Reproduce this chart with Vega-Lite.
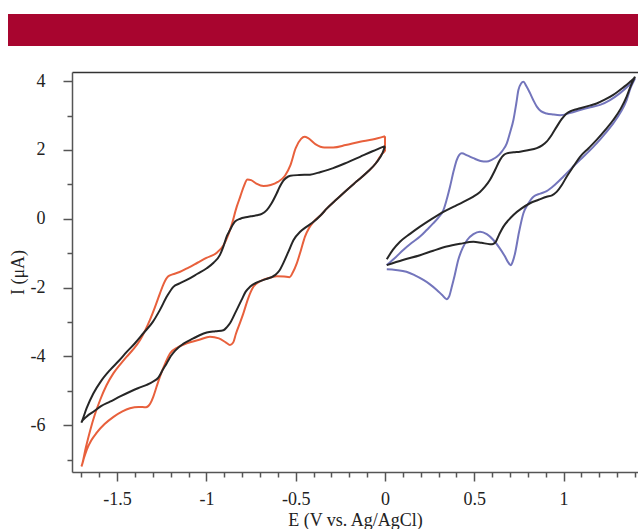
{
  "$schema": "https://vega.github.io/schema/vega-lite/v6.json",
  "padding": {"left": 8, "top": 14, "right": 0, "bottom": 0},
  "background": "white",
  "spacing": {"row": 26, "column": 0},
  "columns": 2,
  "bounds": "flush",
  "config": {"font": "Liberation Serif"},
  "concat": [
    {
      "width": 64,
      "height": 32,
      "data": {"values": []},
      "mark": {"type": "point", "opacity": 0},
      "view": {"fill": "#A8052F", "stroke": null}
    },
    {
      "width": 566,
      "height": 32,
      "data": {"values": []},
      "mark": {"type": "point", "opacity": 0},
      "view": {"fill": "#A8052F", "stroke": null}
    },
    {
      "width": 64,
      "height": 400,
      "data": {"values": []},
      "mark": {"type": "point", "opacity": 0},
      "view": {"fill": null, "stroke": null}
    },
    {
      "width": 566,
      "height": 400,
      "view": {"fill": "white", "stroke": null},
      "data": {"values": [
        {"s":"A","o":1,"E":0.0,"I":2.40},{"s":"A","o":2,"E":-0.07,"I":2.30},{"s":"A","o":3,"E":-0.14,"I":2.24},{"s":"A","o":4,"E":-0.22,"I":2.14},{"s":"A","o":5,"E":-0.29,"I":2.07},{"s":"A","o":6,"E":-0.34,"I":2.07},{"s":"A","o":7,"E":-0.39,"I":2.17},{"s":"A","o":8,"E":-0.43,"I":2.34},{"s":"A","o":9,"E":-0.45,"I":2.38},{"s":"A","o":10,"E":-0.47,"I":2.32},{"s":"A","o":11,"E":-0.50,"I":2.05},{"s":"A","o":12,"E":-0.53,"I":1.55},{"s":"A","o":13,"E":-0.56,"I":1.25},{"s":"A","o":14,"E":-0.60,"I":1.07},{"s":"A","o":15,"E":-0.64,"I":0.98},{"s":"A","o":16,"E":-0.68,"I":0.95},{"s":"A","o":17,"E":-0.72,"I":1.02},{"s":"A","o":18,"E":-0.75,"I":1.12},{"s":"A","o":19,"E":-0.77,"I":1.14},{"s":"A","o":20,"E":-0.79,"I":0.95},{"s":"A","o":21,"E":-0.81,"I":0.65},{"s":"A","o":22,"E":-0.83,"I":0.35},{"s":"A","o":23,"E":-0.86,"I":-0.2},{"s":"A","o":24,"E":-0.88,"I":-0.5},{"s":"A","o":25,"E":-0.905,"I":-0.78},{"s":"A","o":26,"E":-0.94,"I":-0.98},{"s":"A","o":27,"E":-1.0,"I":-1.14},{"s":"A","o":28,"E":-1.05,"I":-1.28},{"s":"A","o":29,"E":-1.10,"I":-1.42},{"s":"A","o":30,"E":-1.15,"I":-1.55},{"s":"A","o":31,"E":-1.19,"I":-1.62},{"s":"A","o":32,"E":-1.215,"I":-1.68},{"s":"A","o":33,"E":-1.24,"I":-1.9},{"s":"A","o":34,"E":-1.26,"I":-2.17},{"s":"A","o":35,"E":-1.29,"I":-2.6},{"s":"A","o":36,"E":-1.316,"I":-2.94},{"s":"A","o":37,"E":-1.345,"I":-3.27},{"s":"A","o":38,"E":-1.372,"I":-3.53},{"s":"A","o":39,"E":-1.41,"I":-3.8},{"s":"A","o":40,"E":-1.446,"I":-4.01},{"s":"A","o":41,"E":-1.48,"I":-4.22},{"s":"A","o":42,"E":-1.52,"I":-4.49},{"s":"A","o":43,"E":-1.56,"I":-4.85},{"s":"A","o":44,"E":-1.595,"I":-5.27},{"s":"A","o":45,"E":-1.625,"I":-5.7},{"s":"A","o":46,"E":-1.65,"I":-6.14},{"s":"A","o":47,"E":-1.675,"I":-6.65},{"s":"A","o":48,"E":-1.70,"I":-7.2},
        {"s":"A","o":49,"E":-1.685,"I":-6.95},{"s":"A","o":50,"E":-1.67,"I":-6.72},{"s":"A","o":51,"E":-1.645,"I":-6.45},{"s":"A","o":52,"E":-1.614,"I":-6.22},{"s":"A","o":53,"E":-1.57,"I":-5.97},{"s":"A","o":54,"E":-1.52,"I":-5.76},{"s":"A","o":55,"E":-1.47,"I":-5.6},{"s":"A","o":56,"E":-1.428,"I":-5.51},{"s":"A","o":57,"E":-1.38,"I":-5.47},{"s":"A","o":58,"E":-1.338,"I":-5.48},{"s":"A","o":59,"E":-1.315,"I":-5.38},{"s":"A","o":60,"E":-1.297,"I":-5.17},{"s":"A","o":61,"E":-1.28,"I":-4.9},{"s":"A","o":62,"E":-1.26,"I":-4.59},{"s":"A","o":63,"E":-1.23,"I":-4.2},{"s":"A","o":64,"E":-1.204,"I":-3.92},{"s":"A","o":65,"E":-1.16,"I":-3.74},{"s":"A","o":66,"E":-1.11,"I":-3.62},{"s":"A","o":67,"E":-1.04,"I":-3.52},{"s":"A","o":68,"E":-0.98,"I":-3.43},{"s":"A","o":69,"E":-0.93,"I":-3.48},{"s":"A","o":70,"E":-0.89,"I":-3.6},{"s":"A","o":71,"E":-0.868,"I":-3.67},{"s":"A","o":72,"E":-0.85,"I":-3.6},{"s":"A","o":73,"E":-0.835,"I":-3.35},{"s":"A","o":74,"E":-0.81,"I":-3.0},{"s":"A","o":75,"E":-0.793,"I":-2.75},{"s":"A","o":76,"E":-0.765,"I":-2.3},{"s":"A","o":77,"E":-0.737,"I":-1.98},{"s":"A","o":78,"E":-0.70,"I":-1.82},{"s":"A","o":79,"E":-0.66,"I":-1.74},{"s":"A","o":80,"E":-0.606,"I":-1.67},{"s":"A","o":81,"E":-0.565,"I":-1.68},{"s":"A","o":82,"E":-0.535,"I":-1.70},{"s":"A","o":83,"E":-0.515,"I":-1.55},{"s":"A","o":84,"E":-0.494,"I":-1.30},{"s":"A","o":85,"E":-0.47,"I":-0.9},{"s":"A","o":86,"E":-0.448,"I":-0.52},{"s":"A","o":87,"E":-0.425,"I":-0.27},{"s":"A","o":88,"E":-0.40,"I":-0.09},{"s":"A","o":89,"E":-0.36,"I":0.1},{"s":"A","o":90,"E":-0.325,"I":0.3},{"s":"A","o":91,"E":-0.28,"I":0.52},{"s":"A","o":92,"E":-0.215,"I":0.83},{"s":"A","o":93,"E":-0.16,"I":1.08},{"s":"A","o":94,"E":-0.10,"I":1.35},{"s":"A","o":95,"E":-0.05,"I":1.62},{"s":"A","o":96,"E":-0.018,"I":1.88},{"s":"A","o":97,"E":0.0,"I":1.98},{"s":"A","o":98,"E":0.0,"I":2.40},

        {"s":"B","o":1,"E":0.0,"I":2.11},{"s":"B","o":2,"E":-0.07,"I":1.96},{"s":"B","o":3,"E":-0.14,"I":1.80},{"s":"B","o":4,"E":-0.21,"I":1.64},{"s":"B","o":5,"E":-0.29,"I":1.47},{"s":"B","o":6,"E":-0.36,"I":1.36},{"s":"B","o":7,"E":-0.42,"I":1.28},{"s":"B","o":8,"E":-0.48,"I":1.27},{"s":"B","o":9,"E":-0.53,"I":1.25},{"s":"B","o":10,"E":-0.555,"I":1.18},{"s":"B","o":11,"E":-0.57,"I":1.10},{"s":"B","o":12,"E":-0.59,"I":0.92},{"s":"B","o":13,"E":-0.606,"I":0.74},{"s":"B","o":14,"E":-0.635,"I":0.45},{"s":"B","o":15,"E":-0.662,"I":0.25},{"s":"B","o":16,"E":-0.69,"I":0.14},{"s":"B","o":17,"E":-0.718,"I":0.10},{"s":"B","o":18,"E":-0.75,"I":0.07},{"s":"B","o":19,"E":-0.78,"I":0.04},{"s":"B","o":20,"E":-0.81,"I":0.0},{"s":"B","o":21,"E":-0.84,"I":-0.08},{"s":"B","o":22,"E":-0.855,"I":-0.2},{"s":"B","o":23,"E":-0.868,"I":-0.33},{"s":"B","o":24,"E":-0.885,"I":-0.5},{"s":"B","o":25,"E":-0.905,"I":-0.81},{"s":"B","o":26,"E":-0.924,"I":-1.05},{"s":"B","o":27,"E":-0.96,"I":-1.28},{"s":"B","o":28,"E":-0.998,"I":-1.44},{"s":"B","o":29,"E":-1.05,"I":-1.6},{"s":"B","o":30,"E":-1.11,"I":-1.78},{"s":"B","o":31,"E":-1.15,"I":-1.88},{"s":"B","o":32,"E":-1.185,"I":-1.98},{"s":"B","o":33,"E":-1.22,"I":-2.25},{"s":"B","o":34,"E":-1.26,"I":-2.65},{"s":"B","o":35,"E":-1.30,"I":-3.0},{"s":"B","o":36,"E":-1.353,"I":-3.33},{"s":"B","o":37,"E":-1.40,"I":-3.62},{"s":"B","o":38,"E":-1.446,"I":-3.87},{"s":"B","o":39,"E":-1.49,"I":-4.13},{"s":"B","o":40,"E":-1.54,"I":-4.40},{"s":"B","o":41,"E":-1.59,"I":-4.72},{"s":"B","o":42,"E":-1.633,"I":-5.08},{"s":"B","o":43,"E":-1.67,"I":-5.5},{"s":"B","o":44,"E":-1.70,"I":-5.93},
        {"s":"B","o":45,"E":-1.67,"I":-5.75},{"s":"B","o":46,"E":-1.633,"I":-5.61},{"s":"B","o":47,"E":-1.59,"I":-5.45},{"s":"B","o":48,"E":-1.54,"I":-5.32},{"s":"B","o":49,"E":-1.48,"I":-5.16},{"s":"B","o":50,"E":-1.428,"I":-5.03},{"s":"B","o":51,"E":-1.38,"I":-4.92},{"s":"B","o":52,"E":-1.334,"I":-4.83},{"s":"B","o":53,"E":-1.30,"I":-4.74},{"s":"B","o":54,"E":-1.269,"I":-4.62},{"s":"B","o":55,"E":-1.245,"I":-4.4},{"s":"B","o":56,"E":-1.222,"I":-4.20},{"s":"B","o":57,"E":-1.2,"I":-4.0},{"s":"B","o":58,"E":-1.176,"I":-3.84},{"s":"B","o":59,"E":-1.13,"I":-3.64},{"s":"B","o":60,"E":-1.073,"I":-3.48},{"s":"B","o":61,"E":-1.035,"I":-3.38},{"s":"B","o":62,"E":-0.998,"I":-3.31},{"s":"B","o":63,"E":-0.95,"I":-3.27},{"s":"B","o":64,"E":-0.905,"I":-3.24},{"s":"B","o":65,"E":-0.885,"I":-3.15},{"s":"B","o":66,"E":-0.868,"I":-3.04},{"s":"B","o":67,"E":-0.835,"I":-2.7},{"s":"B","o":68,"E":-0.803,"I":-2.36},{"s":"B","o":69,"E":-0.78,"I":-2.12},{"s":"B","o":70,"E":-0.756,"I":-1.98},{"s":"B","o":71,"E":-0.72,"I":-1.86},{"s":"B","o":72,"E":-0.68,"I":-1.78},{"s":"B","o":73,"E":-0.616,"I":-1.64},{"s":"B","o":74,"E":-0.59,"I":-1.5},{"s":"B","o":75,"E":-0.57,"I":-1.30},{"s":"B","o":76,"E":-0.54,"I":-0.95},{"s":"B","o":77,"E":-0.512,"I":-0.62},{"s":"B","o":78,"E":-0.475,"I":-0.38},{"s":"B","o":79,"E":-0.438,"I":-0.23},{"s":"B","o":80,"E":-0.40,"I":-0.09},{"s":"B","o":81,"E":-0.36,"I":0.1},{"s":"B","o":82,"E":-0.325,"I":0.3},{"s":"B","o":83,"E":-0.28,"I":0.52},{"s":"B","o":84,"E":-0.215,"I":0.83},{"s":"B","o":85,"E":-0.16,"I":1.08},{"s":"B","o":86,"E":-0.10,"I":1.35},{"s":"B","o":87,"E":-0.05,"I":1.62},{"s":"B","o":88,"E":-0.013,"I":1.92},{"s":"B","o":89,"E":0.0,"I":2.11},

        {"s":"C","o":1,"E":0.01,"I":-1.35},{"s":"C","o":2,"E":0.06,"I":-1.12},{"s":"C","o":3,"E":0.102,"I":-0.91},{"s":"C","o":4,"E":0.15,"I":-0.7},{"s":"C","o":5,"E":0.196,"I":-0.52},{"s":"C","o":6,"E":0.235,"I":-0.32},{"s":"C","o":7,"E":0.271,"I":-0.13},{"s":"C","o":8,"E":0.30,"I":0.04},{"s":"C","o":9,"E":0.327,"I":0.25},{"s":"C","o":10,"E":0.345,"I":0.55},{"s":"C","o":11,"E":0.364,"I":0.93},{"s":"C","o":12,"E":0.385,"I":1.4},{"s":"C","o":13,"E":0.402,"I":1.71},{"s":"C","o":14,"E":0.415,"I":1.85},{"s":"C","o":15,"E":0.43,"I":1.90},{"s":"C","o":16,"E":0.46,"I":1.84},{"s":"C","o":17,"E":0.495,"I":1.76},{"s":"C","o":18,"E":0.535,"I":1.68},{"s":"C","o":19,"E":0.57,"I":1.66},{"s":"C","o":20,"E":0.60,"I":1.72},{"s":"C","o":21,"E":0.626,"I":1.80},{"s":"C","o":22,"E":0.655,"I":1.96},{"s":"C","o":23,"E":0.682,"I":2.19},{"s":"C","o":24,"E":0.70,"I":2.5},{"s":"C","o":25,"E":0.719,"I":2.87},{"s":"C","o":26,"E":0.735,"I":3.35},{"s":"C","o":27,"E":0.747,"I":3.74},{"s":"C","o":28,"E":0.762,"I":3.93},{"s":"C","o":29,"E":0.775,"I":3.98},{"s":"C","o":30,"E":0.792,"I":3.85},{"s":"C","o":31,"E":0.812,"I":3.65},{"s":"C","o":32,"E":0.83,"I":3.45},{"s":"C","o":33,"E":0.85,"I":3.26},{"s":"C","o":34,"E":0.875,"I":3.12},{"s":"C","o":35,"E":0.905,"I":3.06},{"s":"C","o":36,"E":0.94,"I":3.03},{"s":"C","o":37,"E":0.98,"I":3.01},{"s":"C","o":38,"E":1.04,"I":3.08},{"s":"C","o":39,"E":1.092,"I":3.16},{"s":"C","o":40,"E":1.15,"I":3.24},{"s":"C","o":41,"E":1.204,"I":3.31},{"s":"C","o":42,"E":1.26,"I":3.45},{"s":"C","o":43,"E":1.316,"I":3.65},{"s":"C","o":44,"E":1.36,"I":3.85},{"s":"C","o":45,"E":1.40,"I":4.08},
        {"s":"C","o":46,"E":1.375,"I":3.8},{"s":"C","o":47,"E":1.353,"I":3.45},{"s":"C","o":48,"E":1.32,"I":3.1},{"s":"C","o":49,"E":1.278,"I":2.77},{"s":"C","o":50,"E":1.23,"I":2.46},{"s":"C","o":51,"E":1.185,"I":2.19},{"s":"C","o":52,"E":1.14,"I":1.95},{"s":"C","o":53,"E":1.092,"I":1.71},{"s":"C","o":54,"E":1.045,"I":1.47},{"s":"C","o":55,"E":0.998,"I":1.22},{"s":"C","o":56,"E":0.95,"I":0.98},{"s":"C","o":57,"E":0.905,"I":0.80},{"s":"C","o":58,"E":0.87,"I":0.73},{"s":"C","o":59,"E":0.831,"I":0.64},{"s":"C","o":60,"E":0.80,"I":0.42},{"s":"C","o":61,"E":0.775,"I":0.16},{"s":"C","o":62,"E":0.75,"I":-0.4},{"s":"C","o":63,"E":0.728,"I":-1.01},{"s":"C","o":64,"E":0.715,"I":-1.25},{"s":"C","o":65,"E":0.704,"I":-1.35},{"s":"C","o":66,"E":0.69,"I":-1.27},{"s":"C","o":67,"E":0.672,"I":-1.10},{"s":"C","o":68,"E":0.64,"I":-0.84},{"s":"C","o":69,"E":0.607,"I":-0.62},{"s":"C","o":70,"E":0.57,"I":-0.45},{"s":"C","o":71,"E":0.532,"I":-0.38},{"s":"C","o":72,"E":0.495,"I":-0.45},{"s":"C","o":73,"E":0.46,"I":-0.62},{"s":"C","o":74,"E":0.435,"I":-0.85},{"s":"C","o":75,"E":0.41,"I":-1.20},{"s":"C","o":76,"E":0.39,"I":-1.65},{"s":"C","o":77,"E":0.373,"I":-2.0},{"s":"C","o":78,"E":0.36,"I":-2.25},{"s":"C","o":79,"E":0.345,"I":-2.34},{"s":"C","o":80,"E":0.32,"I":-2.22},{"s":"C","o":81,"E":0.29,"I":-2.07},{"s":"C","o":82,"E":0.25,"I":-1.9},{"s":"C","o":83,"E":0.215,"I":-1.78},{"s":"C","o":84,"E":0.165,"I":-1.64},{"s":"C","o":85,"E":0.12,"I":-1.54},{"s":"C","o":86,"E":0.06,"I":-1.49},{"s":"C","o":87,"E":0.01,"I":-1.47},

        {"s":"D","o":1,"E":0.01,"I":-1.18},{"s":"D","o":2,"E":0.045,"I":-0.9},{"s":"D","o":3,"E":0.084,"I":-0.67},{"s":"D","o":4,"E":0.14,"I":-0.44},{"s":"D","o":5,"E":0.196,"I":-0.23},{"s":"D","o":6,"E":0.26,"I":-0.01},{"s":"D","o":7,"E":0.327,"I":0.20},{"s":"D","o":8,"E":0.385,"I":0.35},{"s":"D","o":9,"E":0.439,"I":0.49},{"s":"D","o":10,"E":0.49,"I":0.63},{"s":"D","o":11,"E":0.532,"I":0.78},{"s":"D","o":12,"E":0.56,"I":0.93},{"s":"D","o":13,"E":0.588,"I":1.13},{"s":"D","o":14,"E":0.615,"I":1.4},{"s":"D","o":15,"E":0.644,"I":1.71},{"s":"D","o":16,"E":0.665,"I":1.85},{"s":"D","o":17,"E":0.682,"I":1.90},{"s":"D","o":18,"E":0.72,"I":1.93},{"s":"D","o":19,"E":0.756,"I":1.95},{"s":"D","o":20,"E":0.80,"I":1.99},{"s":"D","o":21,"E":0.85,"I":2.05},{"s":"D","o":22,"E":0.88,"I":2.13},{"s":"D","o":23,"E":0.905,"I":2.24},{"s":"D","o":24,"E":0.935,"I":2.45},{"s":"D","o":25,"E":0.961,"I":2.67},{"s":"D","o":26,"E":0.99,"I":2.9},{"s":"D","o":27,"E":1.017,"I":3.06},{"s":"D","o":28,"E":1.05,"I":3.15},{"s":"D","o":29,"E":1.092,"I":3.21},{"s":"D","o":30,"E":1.14,"I":3.28},{"s":"D","o":31,"E":1.185,"I":3.35},{"s":"D","o":32,"E":1.23,"I":3.46},{"s":"D","o":33,"E":1.278,"I":3.60},{"s":"D","o":34,"E":1.33,"I":3.8},{"s":"D","o":35,"E":1.37,"I":3.97},{"s":"D","o":36,"E":1.40,"I":4.13},
        {"s":"D","o":37,"E":1.375,"I":3.85},{"s":"D","o":38,"E":1.353,"I":3.55},{"s":"D","o":39,"E":1.32,"I":3.2},{"s":"D","o":40,"E":1.278,"I":2.87},{"s":"D","o":41,"E":1.23,"I":2.56},{"s":"D","o":42,"E":1.185,"I":2.29},{"s":"D","o":43,"E":1.14,"I":2.05},{"s":"D","o":44,"E":1.092,"I":1.80},{"s":"D","o":45,"E":1.055,"I":1.52},{"s":"D","o":46,"E":1.017,"I":1.22},{"s":"D","o":47,"E":0.99,"I":0.98},{"s":"D","o":48,"E":0.961,"I":0.78},{"s":"D","o":49,"E":0.935,"I":0.68},{"s":"D","o":50,"E":0.905,"I":0.64},{"s":"D","o":51,"E":0.86,"I":0.55},{"s":"D","o":52,"E":0.812,"I":0.45},{"s":"D","o":53,"E":0.765,"I":0.3},{"s":"D","o":54,"E":0.719,"I":0.11},{"s":"D","o":55,"E":0.69,"I":-0.05},{"s":"D","o":56,"E":0.663,"I":-0.23},{"s":"D","o":57,"E":0.64,"I":-0.45},{"s":"D","o":58,"E":0.616,"I":-0.70},{"s":"D","o":59,"E":0.6,"I":-0.74},{"s":"D","o":60,"E":0.588,"I":-0.74},{"s":"D","o":61,"E":0.54,"I":-0.70},{"s":"D","o":62,"E":0.495,"I":-0.67},{"s":"D","o":63,"E":0.42,"I":-0.73},{"s":"D","o":64,"E":0.345,"I":-0.81},{"s":"D","o":65,"E":0.27,"I":-0.93},{"s":"D","o":66,"E":0.196,"I":-1.06},{"s":"D","o":67,"E":0.1,"I":-1.2},{"s":"D","o":68,"E":0.01,"I":-1.35}
      ]},
      "resolve": {"axis": {"x": "independent"}},
      "layer": [
        {
          "mark": {"type": "line", "strokeWidth": 2, "interpolate": "monotone", "clip": true},
          "encoding": {
            "x": {
              "field": "E", "type": "quantitative",
              "scale": {"domain": [-1.7525, 1.4166], "nice": false, "zero": false},
              "axis": {
                "orient": "bottom",
                "title": "E (V vs. Ag/AgCl)",
                "values": [-1.7,-1.6,-1.5,-1.4,-1.3,-1.2,-1.1,-1,-0.9,-0.8,-0.7,-0.6,-0.5,-0.4,-0.3,-0.2,-0.1,0,0.1,0.2,0.3,0.4,0.5,0.6,0.7,0.8,0.9,1,1.1,1.2,1.3,1.4],
                "labelExpr": "abs(datum.value*2 - round(datum.value*2)) < 0.001 ? '' + datum.value : ''",
                "tickSize": {"condition": {"test": "abs(datum.value*2 - round(datum.value*2)) < 0.001", "value": 9}, "value": 5},
                "grid": false,
                "labelOverlap": false,
                "labelFlush": false,
                "labelFont": "Liberation Serif",
                "labelFontSize": 18,
                "labelColor": "#222",
                "labelPadding": 9,
                "titleFont": "Liberation Serif",
                "titleFontSize": 18,
                "titleFontWeight": "normal",
                "titleColor": "#222",
                "titlePadding": 3,
                "domainColor": "#555",
                "domainWidth": 1.5,
                "tickColor": "#555",
                "tickWidth": 1.5
              }
            },
            "y": {
              "field": "I", "type": "quantitative",
              "scale": {"domain": [-7.363, 4.265], "nice": false, "zero": false},
              "axis": {
                "title": "I (μA)",
                "values": [-7,-6,-5,-4,-3,-2,-1,0,1,2,3,4],
                "labelExpr": "datum.value % 2 == 0 ? '' + datum.value : ''",
                "tickSize": {"condition": {"test": "datum.value % 2 == 0", "value": 9}, "value": 5},
                "grid": false,
                "labelOverlap": false,
                "labelFlush": false,
                "labelFont": "Liberation Serif",
                "labelFontSize": 18,
                "labelColor": "#222",
                "labelPadding": 18,
                "titleFont": "Liberation Serif",
                "titleFontSize": 18,
                "titleFontWeight": "normal",
                "titleColor": "#222",
                "titlePadding": 3,
                "domainColor": "#555",
                "domainWidth": 1.5,
                "tickColor": "#555",
                "tickWidth": 1.5
              }
            },
            "color": {
              "field": "s", "type": "nominal",
              "scale": {"domain": ["A","B","C","D"], "range": ["#E8603C","#262626","#7375BC","#262626"]},
              "legend": null
            },
            "order": {"field": "o", "type": "quantitative"}
          }
        },
        {
          "mark": {"type": "point", "opacity": 0},
          "encoding": {
            "x": {
              "field": "E", "type": "quantitative",
              "axis": {"orient": "top", "title": null, "labels": false, "ticks": false, "grid": false, "domainColor": "#333", "domainWidth": 1.5}
            }
          }
        }
      ]
    }
  ]
}
